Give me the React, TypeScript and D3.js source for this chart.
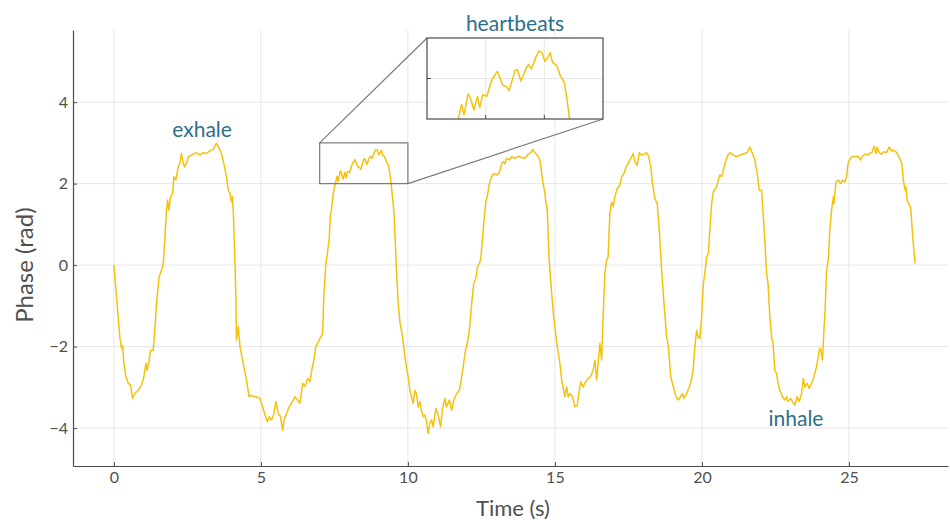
import React, { useRef, useEffect } from "react";
import * as d3 from "d3";

// phase trace (time in s, phase in rad)
const timeS = [
  0, 0.09, 0.2, 0.26, 0.3, 0.34, 0.41, 0.49, 0.57, 0.63, 0.71, 0.83, 0.94, 1.02, 1.09, 1.13, 1.2, 1.25, 1.34, 1.39,
  1.47, 1.54, 1.62, 1.68, 1.73, 1.79, 1.83, 1.87, 1.93, 2.0, 2.04, 2.11, 2.19, 2.24, 2.3, 2.36, 2.41, 2.49, 2.53, 2.64,
  2.81, 2.93, 3.04, 3.15, 3.27, 3.38, 3.49, 3.58, 3.66, 3.74, 3.83, 3.89, 3.95, 4.0, 4.03, 4.06, 4.12, 4.15, 4.17, 4.23,
  4.29, 4.4, 4.51, 4.6, 4.68, 4.76, 4.85, 4.97, 5.06, 5.14, 5.22, 5.28, 5.36, 5.43, 5.51, 5.59, 5.67, 5.74, 5.79, 5.87,
  5.96, 6.04, 6.16, 6.24, 6.33, 6.42, 6.5, 6.59, 6.67, 6.73, 6.8, 6.87, 6.93, 7.01, 7.1, 7.14, 7.21, 7.26, 7.32, 7.37,
  7.4, 7.46, 7.52, 7.59, 7.63, 7.7, 7.74, 7.8, 7.86, 7.9, 7.95, 8.02, 8.09, 8.12, 8.2, 8.29, 8.35, 8.4, 8.5, 8.54,
  8.6, 8.69, 8.73, 8.78, 8.86, 8.91, 8.96, 9.01, 9.05, 9.1, 9.14, 9.21, 9.27, 9.34, 9.38, 9.43, 9.52, 9.57, 9.61, 9.67,
  9.73, 9.82, 9.9, 9.93, 10.01, 10.07, 10.12, 10.18, 10.24, 10.29, 10.35, 10.41, 10.46, 10.52, 10.58, 10.64, 10.69, 10.75, 10.81, 10.86,
  10.95, 11.03, 11.11, 11.18, 11.26, 11.31, 11.41, 11.49, 11.56, 11.66, 11.75, 11.83, 11.88, 11.96, 12.03, 12.09, 12.17, 12.24, 12.31, 12.37,
  12.43, 12.48, 12.56, 12.65, 12.71, 12.77, 12.85, 12.92, 13.01, 13.11, 13.19, 13.24, 13.3, 13.36, 13.45, 13.53, 13.64, 13.75, 13.86, 13.98,
  14.09, 14.18, 14.24, 14.32, 14.4, 14.49, 14.58, 14.66, 14.69, 14.74, 14.8, 14.88, 14.96, 15.05, 15.17, 15.23, 15.28, 15.34, 15.4, 15.45,
  15.51, 15.6, 15.68, 15.76, 15.83, 15.88, 15.96, 16.05, 16.13, 16.21, 16.3, 16.36, 16.42, 16.47, 16.53, 16.59, 16.64, 16.7, 16.76, 16.81,
  16.87, 16.93, 16.98, 17.04, 17.12, 17.21, 17.27, 17.35, 17.42, 17.49, 17.55, 17.61, 17.66, 17.72, 17.8, 17.87, 17.95, 18.03, 18.12, 18.19,
  18.26, 18.32, 18.4, 18.48, 18.55, 18.63, 18.71, 18.8, 18.86, 18.94, 19.03, 19.12, 19.2, 19.27, 19.34, 19.39, 19.48, 19.57, 19.64, 19.7,
  19.76, 19.82, 19.87, 19.93, 19.99, 20.05, 20.1, 20.16, 20.22, 20.27, 20.33, 20.39, 20.5, 20.56, 20.61, 20.67, 20.78, 20.86, 20.95, 21.07,
  21.18, 21.29, 21.38, 21.46, 21.54, 21.63, 21.72, 21.8, 21.88, 21.95, 22.03, 22.09, 22.14, 22.2, 22.25, 22.31, 22.37, 22.42, 22.48, 22.54,
  22.59, 22.65, 22.74, 22.82, 22.88, 22.93, 23.02, 23.08, 23.16, 23.24, 23.31, 23.39, 23.45, 23.5, 23.58, 23.65, 23.73, 23.81, 23.9, 23.99,
  24.03, 24.1, 24.15, 24.19, 24.24, 24.3, 24.35, 24.41, 24.47, 24.49, 24.56, 24.64, 24.72, 24.78, 24.86, 24.92, 24.97, 25.05, 25.14, 25.24,
  25.32, 25.4, 25.46, 25.54, 25.62, 25.71, 25.8, 25.85, 25.92, 25.96, 26.03, 26.11, 26.19, 26.28, 26.37, 26.45, 26.53, 26.63, 26.71, 26.8,
  26.85, 26.91, 26.94, 26.98, 27.05, 27.1, 27.17, 27.25,
];

const phaseRad = [
  0, -0.78, -1.76, -2.04, -1.98, -2.41, -2.74, -2.9, -2.94, -3.27, -3.15, -3.07, -2.94, -2.74, -2.41, -2.58, -2.33, -2.09, -2.09, -1.6,
  -0.78, -0.29, -0.12, 0.04, 0.61, 1.35, 1.6, 1.35, 1.68, 1.76, 2.17, 2.09, 2.41, 2.49, 2.74, 2.49, 2.41, 2.54, 2.66, 2.7,
  2.76, 2.7, 2.76, 2.74, 2.81, 2.84, 2.99, 2.86, 2.74, 2.49, 2.17, 1.84, 1.76, 1.55, 1.68, 1.35, 0.04, -0.78, -1.84, -1.51,
  -2.0, -2.41, -2.82, -3.23, -3.19, -3.23, -3.23, -3.27, -3.48, -3.68, -3.84, -3.72, -3.8, -3.68, -3.35, -3.64, -3.72, -4.05, -3.8, -3.64,
  -3.48, -3.39, -3.23, -3.31, -3.39, -2.9, -2.98, -2.78, -2.86, -2.58, -2.33, -2.0, -1.92, -1.8, -1.68, -0.78, 0.04, 0.29, 0.61, 1.27,
  1.35, 1.76, 1.96, 2.18, 2.05, 2.31, 2.26, 2.11, 2.28, 2.14, 2.3, 2.28, 2.45, 2.5, 2.59, 2.42, 2.4, 2.35, 2.6, 2.61,
  2.47, 2.63, 2.67, 2.62, 2.77, 2.84, 2.82, 2.71, 2.75, 2.82, 2.7, 2.66, 2.54, 2.45, 2.28, 2.0, 1.35, 0.61, -0.12, -0.94,
  -1.4, -1.76, -2.25, -2.41, -2.74, -3.07, -3.23, -3.39, -3.07, -3.15, -3.48, -3.35, -3.56, -3.72, -3.68, -3.88, -4.13, -3.88, -3.8, -3.97,
  -3.52, -3.68, -3.97, -3.52, -3.27, -3.48, -3.31, -3.56, -3.31, -3.15, -3.07, -2.74, -2.49, -2.09, -1.88, -1.6, -0.94, -0.45, -0.33, -0.04,
  0.04, 0.16, 0.86, 1.55, 1.72, 2.0, 2.17, 2.25, 2.21, 2.27, 2.49, 2.54, 2.49, 2.62, 2.58, 2.66, 2.62, 2.67, 2.64, 2.62,
  2.72, 2.76, 2.84, 2.76, 2.7, 2.58, 2.09, 1.76, 1.55, 1.35, 0.2, -0.61, -1.27, -1.84, -2.41, -2.82, -2.99, -3.23, -2.99, -3.23,
  -3.15, -3.23, -3.48, -3.44, -3.07, -2.86, -2.99, -2.86, -2.78, -2.74, -2.58, -2.33, -2.82, -2.41, -1.92, -2.33, -1.27, -0.2, 0.12, 0.2,
  1.27, 1.55, 1.43, 1.68, 1.88, 1.96, 2.17, 2.25, 2.41, 2.49, 2.58, 2.66, 2.74, 2.54, 2.45, 2.76, 2.7, 2.72, 2.76, 2.66,
  2.41, 2.0, 1.64, 1.51, 0.86, -0.12, -0.94, -1.76, -2.0, -2.74, -2.99, -3.23, -3.31, -3.23, -3.15, -3.27, -3.15, -2.99, -2.82, -2.58,
  -2.0, -1.6, -1.76, -1.8, -1.27, -0.45, -0.2, 0.2, 0.29, 0.86, 1.51, 1.8, 1.92, 2.09, 2.21, 2.17, 2.49, 2.66, 2.76, 2.7,
  2.66, 2.7, 2.72, 2.74, 2.76, 2.9, 2.74, 2.58, 2.25, 1.84, 1.84, 1.19, 0.61, -0.2, -0.45, -1.27, -1.76, -1.92, -2.58, -2.66,
  -2.9, -3.07, -3.23, -3.31, -3.23, -3.35, -3.27, -3.35, -3.44, -3.23, -3.35, -3.15, -2.78, -2.99, -2.9, -3.03, -2.9, -2.74, -2.49, -2.09,
  -2.04, -2.33, -1.6, -1.1, -0.12, 0.12, 0.86, 1.35, 1.68, 1.51, 2.04, 2.09, 2.0, 2.09, 2.04, 2.17, 2.49, 2.62, 2.67, 2.66,
  2.67, 2.58, 2.67, 2.72, 2.7, 2.74, 2.78, 2.92, 2.74, 2.9, 2.76, 2.72, 2.78, 2.76, 2.9, 2.8, 2.82, 2.76, 2.64, 2.49,
  2.09, 1.84, 1.92, 1.6, 1.47, 1.43, 0.7, 0.04,
];

const xTicks = [0, 5, 10, 15, 20, 25];
const yTicks = [-4, -2, 0, 2, 4];
const zoomTime = [7, 10];
const zoomPhase = [2, 3];
const insetXTicks = [8, 9];
const insetYTicks = [2.5];
// label anchors (baseline) in data units
const notes = [
  { label: "exhale", t: 3.0, y: 3.14 },
  { label: "inhale", t: 23.2, y: -3.95 },
];

const W = 950;
const H = 520;
const margin = { left: 73, right: 2, top: 30, bottom: 54 };
const inset = { x: 427, y: 38, w: 176, h: 81 };
const FONT = "Lato, 'DejaVu Sans', sans-serif";
const LINE = "#f4c20d";
const TEXT = "#505050";
const AXIS = "#4a4a4a";
const NOTE = "#2c6f8b";

export default function App() {
  const svgRef = useRef<SVGSVGElement>(null);

  useEffect(() => {
    const svg = d3.select(svgRef.current);
    svg.selectAll("*").remove();

    const data = timeS.map((t, i) => [t, phaseRad[i]] as [number, number]);

    const x = d3
      .scaleLinear()
      .domain([-1.39, 28.37])
      .range([margin.left, W - margin.right]);
    const y = d3
      .scaleLinear()
      .domain([-4.93, 5.77])
      .range([H - margin.bottom, margin.top]);

    // grid
    const grid = svg.append("g").attr("stroke", "#e6e6e6").attr("stroke-width", 1);
    grid
      .selectAll(".vx")
      .data(xTicks)
      .join("line")
      .attr("x1", (d) => x(d))
      .attr("x2", (d) => x(d))
      .attr("y1", margin.top)
      .attr("y2", H - margin.bottom);
    grid
      .selectAll(".hy")
      .data(yTicks)
      .join("line")
      .attr("x1", margin.left)
      .attr("x2", W - margin.right)
      .attr("y1", (d) => y(d))
      .attr("y2", (d) => y(d));

    // main trace
    const lineGen = d3
      .line<[number, number]>()
      .x((d) => x(d[0]))
      .y((d) => y(d[1]));

    svg
      .append("path")
      .datum(data)
      .attr("fill", "none")
      .attr("stroke", LINE)
      .attr("stroke-width", 1.5)
      .attr("stroke-linejoin", "round")
      .attr("d", lineGen);

    // axes
    const xAxis = svg
      .append("g")
      .attr("transform", `translate(0,${H - margin.bottom})`)
      .call(d3.axisBottom(x).tickValues(xTicks).tickSizeInner(-4).tickSizeOuter(0).tickPadding(6));
    const yAxis = svg
      .append("g")
      .attr("transform", `translate(${margin.left},0)`)
      .call(d3.axisLeft(y).tickValues(yTicks).tickSizeInner(-4).tickSizeOuter(0).tickPadding(5));
    [xAxis, yAxis].forEach((ax) => {
      ax.select(".domain").attr("stroke", AXIS).attr("stroke-width", 1.2);
      ax.selectAll(".tick line").attr("stroke", AXIS);
      ax.selectAll(".tick text")
        .attr("fill", TEXT)
        .style("font-family", FONT)
        .style("font-size", "16px");
    });

    svg
      .append("text")
      .attr("x", 513)
      .attr("y", 516)
      .attr("text-anchor", "middle")
      .attr("fill", TEXT)
      .style("font-family", FONT)
      .style("font-size", "22px")
      .text("Time (s)");
    svg
      .append("text")
      .attr("transform", `translate(33,${y(0)}) rotate(-90)`)
      .attr("text-anchor", "middle")
      .attr("fill", TEXT)
      .style("font-family", FONT)
      .style("font-size", "24px")
      .text("Phase (rad)");

    // annotations
    svg
      .selectAll(".note")
      .data(notes)
      .join("text")
      .attr("x", (d) => x(d.t))
      .attr("y", (d) => y(d.y))
      .attr("text-anchor", "middle")
      .attr("fill", NOTE)
      .style("font-family", FONT)
      .style("font-size", "21px")
      .text((d) => d.label);

    // zoom box on main axes + connectors
    const bx0 = x(zoomTime[0]);
    const bx1 = x(zoomTime[1]);
    const by0 = y(zoomPhase[1]);
    const by1 = y(zoomPhase[0]);
    const conn = svg.append("g").attr("stroke", "#7a7a7a").attr("stroke-width", 1.2).attr("fill", "none");
    conn.append("rect").attr("x", bx0).attr("y", by0).attr("width", bx1 - bx0).attr("height", by1 - by0);
    conn.append("line").attr("x1", bx0).attr("y1", by0).attr("x2", inset.x).attr("y2", inset.y);
    conn
      .append("line")
      .attr("x1", bx1)
      .attr("y1", by1)
      .attr("x2", inset.x + inset.w)
      .attr("y2", inset.y + inset.h);

    // inset
    const ix = d3.scaleLinear().domain(zoomTime).range([inset.x, inset.x + inset.w]);
    const iy = d3.scaleLinear().domain(zoomPhase).range([inset.y + inset.h, inset.y]);
    svg
      .append("defs")
      .append("clipPath")
      .attr("id", "inset-clip")
      .append("rect")
      .attr("x", inset.x)
      .attr("y", inset.y)
      .attr("width", inset.w)
      .attr("height", inset.h);

    const ig = svg.append("g");
    ig.append("rect")
      .attr("x", inset.x)
      .attr("y", inset.y)
      .attr("width", inset.w)
      .attr("height", inset.h)
      .attr("fill", "#fff");
    ig.selectAll(".ivx")
      .data(insetXTicks)
      .join("line")
      .attr("x1", (d) => ix(d))
      .attr("x2", (d) => ix(d))
      .attr("y1", inset.y)
      .attr("y2", inset.y + inset.h)
      .attr("stroke", "#e6e6e6");
    ig.selectAll(".ihy")
      .data(insetYTicks)
      .join("line")
      .attr("x1", inset.x)
      .attr("x2", inset.x + inset.w)
      .attr("y1", (d) => iy(d))
      .attr("y2", (d) => iy(d))
      .attr("stroke", "#e6e6e6");
    ig.append("path")
      .datum(data)
      .attr("clip-path", "url(#inset-clip)")
      .attr("fill", "none")
      .attr("stroke", LINE)
      .attr("stroke-width", 1.5)
      .attr("stroke-linejoin", "round")
      .attr(
        "d",
        d3
          .line<[number, number]>()
          .x((d) => ix(d[0]))
          .y((d) => iy(d[1]))
      );
    ig.selectAll(".itx")
      .data(insetXTicks)
      .join("line")
      .attr("x1", (d) => ix(d))
      .attr("x2", (d) => ix(d))
      .attr("y1", inset.y + inset.h)
      .attr("y2", inset.y + inset.h - 4)
      .attr("stroke", AXIS);
    ig.selectAll(".ity")
      .data(insetYTicks)
      .join("line")
      .attr("x1", inset.x)
      .attr("x2", inset.x + 4)
      .attr("y1", (d) => iy(d))
      .attr("y2", (d) => iy(d))
      .attr("stroke", AXIS);
    ig.append("rect")
      .attr("x", inset.x)
      .attr("y", inset.y)
      .attr("width", inset.w)
      .attr("height", inset.h)
      .attr("fill", "none")
      .attr("stroke", AXIS)
      .attr("stroke-width", 1.2);
    ig.append("text")
      .attr("x", inset.x + inset.w / 2)
      .attr("y", inset.y - 7)
      .attr("text-anchor", "middle")
      .attr("fill", NOTE)
      .style("font-family", FONT)
      .style("font-size", "21px")
      .text("heartbeats");
  }, []);

  return (
    <svg
      ref={svgRef}
      width={W}
      height={H}
      style={{ position: "absolute", left: 0, top: 0, background: "#fff" }}
    />
  );
}
